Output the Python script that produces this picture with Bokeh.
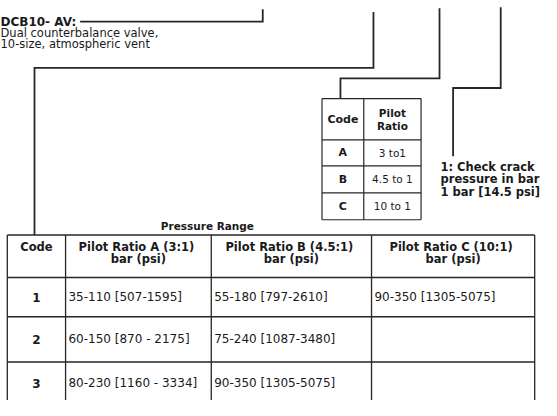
from bokeh.plotting import figure
from bokeh.models import Range1d
from bokeh.core.properties import value
from bokeh.embed import file_html
from bokeh.resources import INLINE

# ---------------- data ----------------
model_code = "DCB10- AV:"
model_desc = ["Dual counterbalance valve,", "10-size, atmospheric vent"]

ratio_header = ["Code", "Pilot\nRatio"]
ratio_codes = ["A", "B", "C"]
ratio_values = ["3 to1", "4.5 to 1", "10 to 1"]

note_lines = ["1:  Check crack", "pressure in bar", "1 bar [14.5 psi]"]

range_title = "Pressure Range"
range_headers = ["Code", "Pilot Ratio A  (3:1)\nbar (psi)",
                 "Pilot Ratio B  (4.5:1)\nbar (psi)",
                 "Pilot Ratio C  (10:1)\nbar (psi)"]
range_codes = ["1", "2", "3"]
ratio_a = ["35-110 [507-1595]", "60-150  [870 - 2175]", "80-230  [1160 - 3334]"]
ratio_b = ["55-180  [797-2610]", "75-240  [1087-3480]", "90-350 [1305-5075]"]
ratio_c = ["90-350  [1305-5075]", "", ""]

# ---------------- layout (reference pixel space) ----------------
W, H = 557, 416
FW, FH = 541, 400
BIG_X = [7, 67, 217, 382, 550]
BIG_Y = [244, 288, 329, 376, 424]
SMALL_X = [331, 374, 433]
SMALL_Y = [102, 145, 172, 200, 228]
FONT = "DejaVu Sans"
LINE_COLOR = "#262626"
TEXT_COLOR = "#1a1a1a"

p = figure(width=FW, height=FH, output_backend="svg", toolbar_location=None,
           x_range=Range1d(0, W), y_range=Range1d(H, 0),
           min_border=0, outline_line_color=None)
p.axis.visible = False
p.grid.visible = False
p.background_fill_color = "white"
p.border_fill_color = "white"


def txt(x, y, t, bold=False, align="left", size=11.0):
    p.text(x=[x], y=[y], text=[t], text_font=value(FONT),
           text_font_size=f"{size}px",
           text_font_style="bold" if bold else "normal",
           text_align=align, text_baseline="middle", text_color=TEXT_COLOR)


def hline(x0, x1, y, w=1.2):
    p.line(x=[x0, x1], y=[y, y], line_color=LINE_COLOR, line_width=w)


def vline(x, y0, y1, w=1.2):
    p.line(x=[x, x], y=[y0, y1], line_color=LINE_COLOR, line_width=w)


def poly(pts, w=1.8):
    p.line(x=[a for a, _ in pts], y=[b for _, b in pts], line_color=LINE_COLOR,
           line_width=w, line_join="miter")


# connectors
poly([(82, 22), (270, 22), (270, 9)])
poly([(35, BIG_Y[0]), (35, 70), (384, 70), (384, 12)])
poly([(350, SMALL_Y[0]), (350, 81), (452, 81), (452, 8)])
poly([(466, 162), (466, 91), (515, 91), (515, 7)])

# model text
txt(0, 22, model_code, bold=True, size=12)
for i, line in enumerate(model_desc):
    txt(0, 34 + 11.5 * i, line, size=11.5)

# small ratio table
for y in SMALL_Y:
    hline(SMALL_X[0], SMALL_X[-1], y)
for x in SMALL_X:
    vline(x, SMALL_Y[0], SMALL_Y[-1])
cx0 = (SMALL_X[0] + SMALL_X[1]) / 2
cx1 = (SMALL_X[1] + SMALL_X[2]) / 2
hy = (SMALL_Y[0] + SMALL_Y[1]) / 2
txt(cx0, hy, ratio_header[0], bold=True, align="center")
h1, h2 = ratio_header[1].split("\n")
txt(cx1, hy - 6.5, h1, bold=True, align="center", size=10.5)
txt(cx1, hy + 6.5, h2, bold=True, align="center", size=10.5)
for i, (c, v) in enumerate(zip(ratio_codes, ratio_values)):
    ry = (SMALL_Y[i + 1] + SMALL_Y[i + 2]) / 2
    txt(cx0, ry, c, bold=True, align="center")
    txt(cx1, ry, v, align="center", size=10.5)

# note
for i, line in enumerate(note_lines):
    txt(453, 173 + 13 * i, line, bold=True, size=11.5)

# pressure range title
txt(213, 234, range_title, bold=True, align="center", size=10.5)

# big table
for y in BIG_Y[:-1]:
    hline(BIG_X[0], BIG_X[-1], y, w=1.5)
for x in BIG_X:
    vline(x, BIG_Y[0], BIG_Y[-1], w=1.3)
for j, head in enumerate(range_headers):
    cx = (BIG_X[j] + BIG_X[j + 1]) / 2
    parts = head.split("\n")
    for k, part in enumerate(parts):
        txt(cx, 256 + 12.5 * k, part, bold=True, align="center", size=11.5)
cols = [ratio_a, ratio_b, ratio_c]
for i, code in enumerate(range_codes):
    ry = (BIG_Y[i + 1] + min(BIG_Y[i + 2], 420)) / 2
    txt((BIG_X[0] + BIG_X[1]) / 2, ry, code, bold=True, align="center", size=12)
    for j, col in enumerate(cols):
        if col[i]:
            txt(BIG_X[j + 1] + 3, ry, col[i], size=12)

open("out.html", "w").write(file_html(p, INLINE))
